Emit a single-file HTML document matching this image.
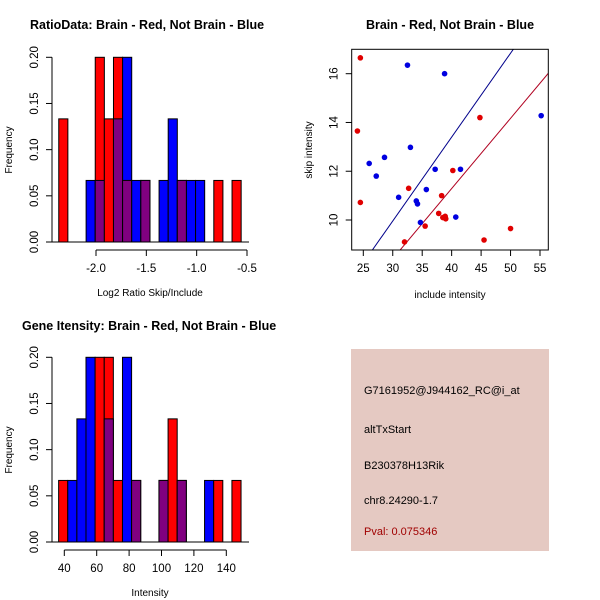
<!DOCTYPE html>
<html><head><meta charset="utf-8"><style>
body{margin:0;background:#fff}
svg{display:block;font-family:"Liberation Sans",sans-serif}
</style></head><body>
<svg id="c" width="600" height="600"></svg>
<script>
// Top-left histogram (log2 ratio), 20 bins
const ratioBinStart = -2.37;
const ratioBinWidth = 0.0906;
const ratioRed  = [2,0,0,0,3,2,3,1,0,1,0,0,0,1,0,0,0,1,0,1];
const ratioBlue = [0,0,0,1,1,0,2,3,1,1,0,1,2,1,1,1,0,0,0,0];
const ratioXTicks = [-2.0,-1.5,-1.0,-0.5];
const ratioXLabels = ["-2.0","-1.5","-1.0","-0.5"];
const freqTicks = [0,0.05,0.10,0.15,0.20];
const freqLabels = ["0.00","0.05","0.10","0.15","0.20"];
// Bottom-left histogram (intensity)
const intBinStart = 36.5;
const intBinWidth = 5.63;
const intRed  = [1,0,0,0,3,3,1,0,1,0,0,1,2,1,0,0,0,1,0,1];
const intBlue = [0,1,2,3,0,2,0,3,1,0,0,1,0,1,0,0,1,0,0,0];
const intXTicks = [40,60,80,100,120,140];
// Scatter
const redX = [24.5,24,24.5,32.7,32,35.5,37.8,38.3,38.5,38.9,39,40.2,44.8,45.5,50];
const redY = [16.65,13.65,10.72,11.3,9.1,9.75,10.27,11.0,10.1,10.15,10.05,12.03,14.2,9.18,9.65];
const blueX = [32.5,38.8,26,27.2,28.6,33,31,34,34.2,35.7,34.7,37.2,41.5,40.7,55.2];
const blueY = [16.35,16.0,12.32,11.8,12.57,12.98,10.93,10.78,10.66,11.25,9.9,12.08,12.08,10.12,14.28];
const blueLine = [0.344,-0.36];
const redLine = [0.288,-0.23];
const scXTicks = [25,30,35,40,45,50,55];
const scYTicks = [10,12,14,16];

const svg = document.getElementById('c');
const NS = 'http://www.w3.org/2000/svg';
function mk(tag, attrs, parent){const e=document.createElementNS(NS,tag);for(const k in attrs)e.setAttribute(k,attrs[k]);(parent||svg).appendChild(e);return e;}
function txt(s,x,y,attrs,parent){const t=mk('text',Object.assign({x:x,y:y,'font-size':11.5,fill:'#000'},attrs),parent);t.textContent=s;return t;}

function histogram(name, top, title, titleX, titleY, xlab, binStart, binW, red, blue, xTicks, xLabels, x0v, x1v, px0, px1){
  const g = mk('g',{});
  
  
  const y0=top+202, y1=top+17.3;
  const sy=v=>y0+(y1-y0)*v/0.2;
  const sx=v=>px0+(px1-px0)*(v-x0v)/(x1v-x0v);
  const tt=txt(title,titleX,titleY,{'font-weight':'bold','font-size':12.5},g);
  
  
  for(let i=0;i<red.length;i++){
    const l=sx(binStart+i*binW), r=sx(binStart+(i+1)*binW);
    const rv=red[i]/15, bv=blue[i]/15;
    const draw=(v,col,nm)=>{ if(v<=0)return; const b=mk('rect',{x:l,y:sy(v),width:r-l,height:sy(0)-sy(v),fill:col,stroke:'#000','stroke-width':1},g);
      
       };
    if(rv>=bv){draw(rv,'#ff0000','red');draw(bv,'#800080','overlap');}
    else{draw(bv,'#0000ff','blue');draw(rv,'#800080','overlap');}
  }
  mk('line',{x1:52,y1:sy(0),x2:52,y2:sy(0.2),stroke:'#000'},g);
  freqTicks.forEach((v,i)=>{mk('line',{x1:46,y1:sy(v),x2:52,y2:sy(v),stroke:'#000'},g);
    txt(freqLabels[i],38,sy(v),{transform:`rotate(-90 38 ${sy(v)})`,'text-anchor':'middle'},g);});
  const yl=txt('Frequency',12,top+110,{transform:`rotate(-90 12 ${top+110})`,'text-anchor':'middle','font-size':10},g);
  
  
  mk('line',{x1:52,y1:sy(0),x2:249,y2:sy(0),stroke:'#000'},g);
  const xa=top+210;
  mk('line',{x1:sx(xTicks[0]),y1:xa,x2:sx(xTicks[xTicks.length-1]),y2:xa,stroke:'#000'},g);
  xTicks.forEach((v,i)=>{mk('line',{x1:sx(v),y1:xa,x2:sx(v),y2:xa+6,stroke:'#000'},g);
    txt(xLabels[i],sx(v),xa+22,{'text-anchor':'middle'},g);});
  const xl=txt(xlab,150,top+256,{'text-anchor':'middle','font-size':10},g);
  
  
}
histogram('ratio-histogram',40,'RatioData: Brain - Red, Not Brain - Blue',30,29,'Log2 Ratio Skip/Include',ratioBinStart,ratioBinWidth,ratioRed,ratioBlue,ratioXTicks,ratioXLabels,-2.0,-0.5,96,247);
histogram('intensity-histogram',340,'Gene Itensity: Brain - Red, Not Brain - Blue',22,330,'Intensity',intBinStart,intBinWidth,intRed,intBlue,intXTicks,intXTicks.map(String),40,140,64.3,226.3);

(function(){
  const g=mk('g',{});
  
  
  const L=351.7,R=548.3,T=49.3,B=250;
  const sx=v=>363.3+(v-25)*(176.7/30);
  const sy=v=>220+(v-10)*(-146.3/6);
  const t=txt('Brain - Red, Not Brain - Blue',450,29,{'text-anchor':'middle','font-weight':'bold','font-size':12.5},g);
  
  
  mk('defs',{},g).innerHTML=`<clipPath id="cp"><rect x="${L}" y="${T}" width="${R-L}" height="${B-T}"/></clipPath>`;
  const lg=mk('g',{'clip-path':'url(#cp)'},g);
  const drawLine=(c,col,nm)=>{const l=mk('line',{x1:sx(20),y1:sy(c[0]*20+c[1]),x2:sx(60),y2:sy(c[0]*60+c[1]),stroke:col,'stroke-width':1},lg);
    
    };
  drawLine(blueLine,'#00008b','blue-fit-line');
  drawLine(redLine,'#b00020','red-fit-line');
  redX.forEach((x,i)=>{const p=mk('circle',{cx:sx(x),cy:sy(redY[i]),r:2.8,fill:'#e00000'},g);
    
    });
  blueX.forEach((x,i)=>{const p=mk('circle',{cx:sx(x),cy:sy(blueY[i]),r:2.8,fill:'#0000e0'},g);
    
    });
  mk('rect',{x:L,y:T,width:R-L,height:B-T,fill:'none',stroke:'#000'},g);
  scXTicks.forEach(v=>{mk('line',{x1:sx(v),y1:B,x2:sx(v),y2:B+6,stroke:'#000'},g);txt(String(v),sx(v),B+22,{'text-anchor':'middle'},g);});
  scYTicks.forEach(v=>{mk('line',{x1:L-6,y1:sy(v),x2:L,y2:sy(v),stroke:'#000'},g);txt(String(v),L-14,sy(v),{transform:`rotate(-90 ${L-14} ${sy(v)})`,'text-anchor':'middle'},g);});
  const xl=txt('include intensity',450,298,{'text-anchor':'middle','font-size':10},g);
  
  
  const yl=txt('skip intensity',312,150,{transform:'rotate(-90 312 150)','text-anchor':'middle','font-size':10},g);
  
  
})();
</script>
<div style="position:absolute;left:351px;top:349px;width:198px;height:202px;background:#e5c9c2;font-family:'Liberation Sans',sans-serif;font-size:11px;">
  <div style="position:absolute;left:13px;top:36px">G7161952@J944162_RC@i_at</div>
  <div style="position:absolute;left:13px;top:75px">altTxStart</div>
  <div style="position:absolute;left:13px;top:111px">B230378H13Rik</div>
  <div style="position:absolute;left:13px;top:146px">chr8.24290-1.7</div>
  <div style="position:absolute;left:13px;top:177px;color:#a00000">Pval: 0.075346</div>
</div>
</body></html>
